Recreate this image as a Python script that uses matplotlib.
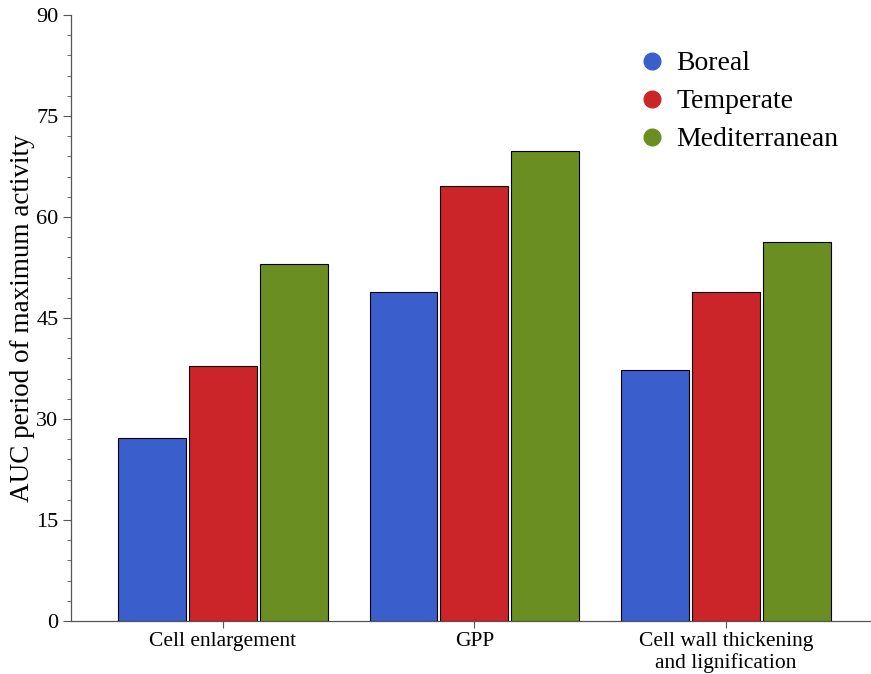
import matplotlib
matplotlib.use("Agg")
matplotlib.rcParams["font.family"] = "Liberation Serif"
import matplotlib.pyplot as plt
import numpy as np
from matplotlib.ticker import MultipleLocator
from matplotlib.lines import Line2D

categories = ["Cell enlargement", "GPP", "Cell wall thickening\nand lignification"]
series = ["Boreal", "Temperate", "Mediterranean"]
boreal = [27.2, 48.9, 37.3]
temperate = [37.9, 64.6, 48.9]
mediterranean = [53.0, 69.8, 56.3]
colors = ["#3A5FCD", "#CC2529", "#6B8E23"]

fig = plt.figure(figsize=(8.71, 6.74), dpi=100)
ax = fig.add_axes([0.0815, 0.0786, 0.9185, 0.899])

x = np.arange(len(categories))
w = 0.27
step = 0.282
for i, (vals, c) in enumerate(zip([boreal, temperate, mediterranean], colors)):
    ax.bar(x + (i - 1) * step, vals, width=w, color=c, edgecolor="black", linewidth=0.8, zorder=3)

ax.set_xlim(-0.604, 2.577)
ax.set_ylim(0, 90)
ax.yaxis.set_major_locator(MultipleLocator(15))
ax.yaxis.set_minor_locator(MultipleLocator(3))
ax.set_xticks(x)
ax.set_xticklabels(categories, fontsize=15.5, linespacing=1.15)
ax.tick_params(axis="y", labelsize=16, length=6, width=0.8, color="#555555", pad=3)
ax.tick_params(axis="y", which="minor", length=3, width=0.6, color="#555555")
ax.tick_params(axis="x", length=5, width=0.8, color="#555555", pad=3)
ax.set_ylabel("AUC period of maximum activity", fontsize=19.5, labelpad=1)

for s in ["top", "right"]:
    ax.spines[s].set_visible(False)
for s in ["left", "bottom"]:
    ax.spines[s].set_color("#555555")
    ax.spines[s].set_linewidth(0.9)

handles = [Line2D([], [], marker="o", linestyle="none", markersize=12, color=c) for c in colors]
ax.legend(handles, series, loc="upper right", bbox_to_anchor=(0.991, 0.982), frameon=False,
          fontsize=20, handletextpad=0.3, labelspacing=0.45, handlelength=1.2)

fig.savefig("out.png", dpi=100)
